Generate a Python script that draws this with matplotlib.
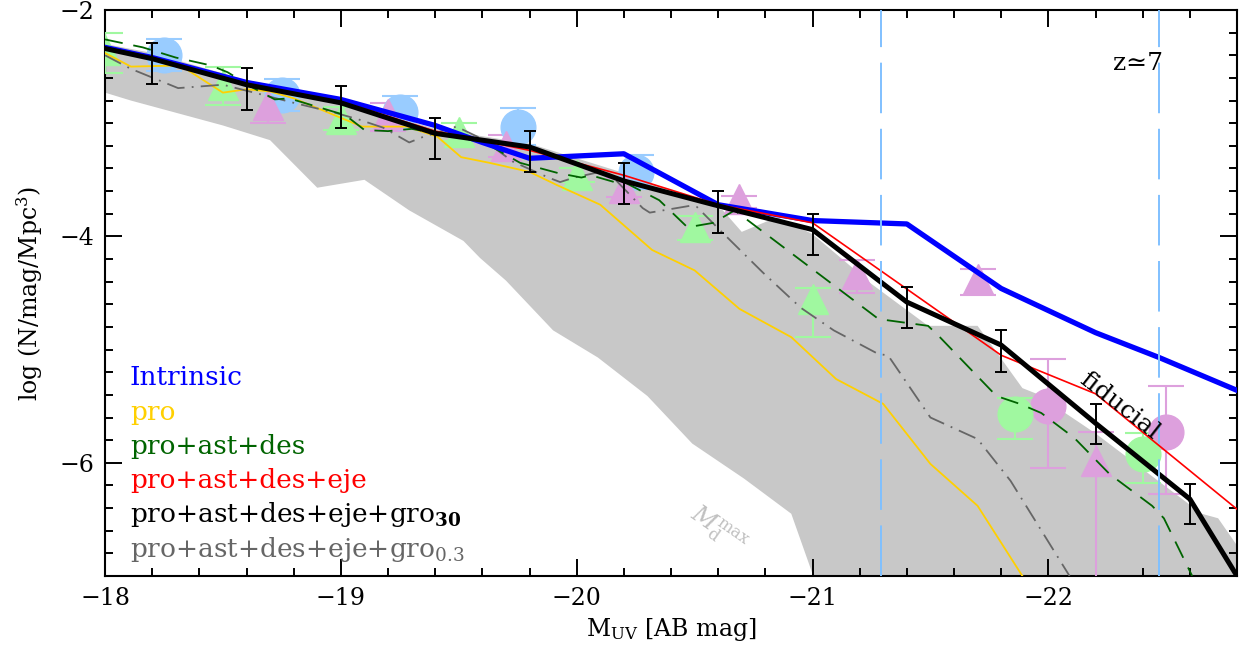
import numpy as np
import matplotlib
matplotlib.use('Agg')
import matplotlib.pyplot as plt
from matplotlib.ticker import MultipleLocator

plt.rcParams['font.family'] = ['DejaVu Serif']
plt.rcParams['mathtext.fontset'] = 'dejavuserif'

# model curves, M_UV vs log phi
fid_mag = [-18.0, -18.2, -18.6, -19.0, -19.4, -19.8, -20.2, -20.6, -21.0, -21.4, -21.8, -22.2, -22.6, -22.8]
fid_phi = [-2.34, -2.43, -2.66, -2.82, -3.09, -3.21, -3.51, -3.73, -3.94, -4.58, -4.96, -5.65, -6.32, -7.0]

eb_mag = [-18.2, -18.6, -19.0, -19.4, -19.8, -20.2, -20.6, -21.0, -21.4, -21.8, -22.2, -22.6]
eb_lo = [-2.65, -2.88, -3.04, -3.32, -3.43, -3.71, -3.97, -4.16, -4.81, -5.20, -5.83, -6.54]
eb_hi = [-2.29, -2.51, -2.67, -2.95, -3.07, -3.35, -3.60, -3.80, -4.45, -4.83, -5.48, -6.19]

int_mag = [-18.0, -18.2, -18.6, -19.0, -19.4, -19.6, -19.8, -20.2, -20.6, -21.0, -21.4, -21.8, -22.2, -22.47, -22.8]
int_phi = [-2.33, -2.42, -2.64, -2.79, -3.02, -3.17, -3.31, -3.27, -3.72, -3.86, -3.89, -4.46, -4.85, -5.07, -5.36]

red_mag = [-18.0, -18.2, -18.6, -19.0, -19.4, -19.8, -20.2, -20.6, -21.0, -21.8, -22.2, -22.8]
red_phi = [-2.34, -2.43, -2.65, -2.81, -3.07, -3.24, -3.46, -3.72, -3.88, -5.05, -5.39, -6.41]

pro_mag = [-18.0, -18.11, -18.32, -18.50, -18.60, -18.70, -18.80, -19.09, -19.28, -19.41, -19.51, -19.63,
           -19.80, -19.92, -20.10, -20.21, -20.32, -20.50, -20.69, -20.91, -21.10, -21.30, -21.50, -21.70, -21.89]
pro_phi = [-2.38, -2.50, -2.49, -2.73, -2.70, -2.72, -2.78, -3.03, -3.03, -3.12, -3.30, -3.35,
           -3.43, -3.55, -3.72, -3.92, -4.12, -4.30, -4.64, -4.89, -5.26, -5.48, -6.01, -6.38, -7.0]

pad_mag = [-18.0, -18.16, -18.30, -18.45, -18.52, -18.63, -18.72, -18.78, -19.02, -19.10, -19.20, -19.30,
           -19.60, -19.76, -19.92, -20.02, -20.06, -20.16, -20.21, -20.35, -20.47, -20.58, -20.67,
           -21.28, -21.49, -21.54, -21.78, -21.88, -21.97, -22.11, -22.26, -22.44, -22.49, -22.61]
pad_phi = [-2.26, -2.33, -2.42, -2.49, -2.55, -2.69, -2.79, -2.78, -2.93, -3.06, -3.07, -3.05,
           -3.16, -3.35, -3.44, -3.48, -3.46, -3.52, -3.53, -3.68, -3.92, -3.88, -3.77,
           -4.73, -4.79, -4.89, -5.41, -5.48, -5.56, -5.78, -6.10, -6.38, -6.49, -7.0]

g03_mag = [-18.0, -18.11, -18.31, -18.50, -18.67, -18.80, -18.98, -19.08, -19.18, -19.29, -19.35, -19.49,
           -19.60, -19.73, -19.88, -19.93, -19.99, -20.10, -20.16, -20.28, -20.31, -20.48, -20.51,
           -20.61, -20.79, -20.95, -21.09, -21.28, -21.32, -21.50, -21.70, -21.84, -22.09]
g03_phi = [-2.40, -2.52, -2.69, -2.66, -2.75, -2.82, -2.91, -2.97, -3.04, -3.17, -3.12, -3.03,
           -3.14, -3.34, -3.48, -3.52, -3.48, -3.43, -3.49, -3.75, -3.79, -3.73, -3.74,
           -3.95, -4.32, -4.63, -4.83, -5.04, -5.05, -5.60, -5.79, -6.16, -7.0]

# shaded M_d^max range
band_top_mag = [-18.0, -18.2, -18.4, -18.6, -19.0, -19.4, -19.8, -20.2, -20.62, -20.7, -20.85, -21.0,
                -21.12, -21.25, -21.49, -21.70, -21.89, -21.95, -22.2, -22.65, -22.72, -22.8]
band_top_phi = [-2.30, -2.38, -2.50, -2.62, -2.80, -3.05, -3.18, -3.44, -3.77, -3.96, -3.83, -3.98,
                -4.19, -4.42, -4.79, -4.79, -5.34, -5.39, -5.74, -6.45, -6.49, -6.73]
band_bot_mag = [-18.0, -18.11, -18.50, -18.70, -18.90, -19.10, -19.29, -19.52, -19.59, -19.70, -19.90,
                -20.09, -20.30, -20.49, -20.71, -20.91, -21.0, -21.0, -22.8]
band_bot_phi = [-2.73, -2.80, -3.02, -3.15, -3.57, -3.50, -3.77, -4.04, -4.19, -4.39, -4.83,
                -5.07, -5.41, -5.83, -6.14, -6.45, -6.98, -7.5, -7.5]

# observations
circ_mag = [-18.25, -18.75, -19.25, -19.75, -20.25]
circ_phi = [-2.40, -2.75, -2.90, -3.03, -3.43]
circ_err = [0.14, 0.14, 0.14, 0.16, 0.15]

ptri_mag = [-18.69, -19.20, -19.70, -20.20, -20.69, -21.19, -21.70, -22.20]
ptri_phi = [-2.84, -2.92, -3.20, -3.57, -3.67, -4.33, -4.38, -5.98]
ptri_lo = [-3.00, -3.07, -3.30, -3.65, -3.75, -4.50, -4.52, -8.0]
ptri_hi = [-2.68, -2.82, -3.10, -3.48, -3.64, -4.21, -4.29, -5.73]
pcirc_mag = [-22.0, -22.5]
pcirc_phi = [-5.50, -5.73]
pcirc_lo = [-6.05, -6.28]
pcirc_hi = [-5.08, -5.32]

gtri_mag = [-18.0, -18.5, -19.0, -19.5, -20.0, -20.5, -21.0]
gtri_phi = [-2.35, -2.66, -2.96, -3.08, -3.46, -3.92, -4.55]
gtri_lo = [-2.56, -2.84, -3.06, -3.16, -3.52, -4.03, -4.89]
gtri_hi = [-2.20, -2.50, -2.86, -3.00, -3.40, -3.82, -4.46]
gcirc_mag = [-21.86, -22.40]
gcirc_phi = [-5.57, -5.92]
gcirc_lo = [-5.79, -6.18]
gcirc_hi = [-5.43, -5.74]

vline_mag = [-21.29, -22.47]

labels = ['Intrinsic', 'pro', 'pro+ast+des', 'pro+ast+des+eje',
          r'pro+ast+des+eje+gro$_{\mathbf{30}}$', r'pro+ast+des+eje+gro$_{0.3}$']
label_colors = ['#0000ff', '#ffd000', '#006400', '#ff0000', 'black', '#666666']

pink = '#dda0dd'
lgreen = '#a0f8a0'
lblue = '#99ccff'


def asym(phi, lo, hi):
    phi = np.array(phi)
    return [phi - np.array(lo), np.array(hi) - phi]


fig = plt.figure(figsize=(12.4, 6.55), dpi=100)
ax = fig.add_axes([105/1240, 1-576/655, 1132/1240, 566/655])

ax.fill(band_top_mag + band_bot_mag[::-1], band_top_phi + band_bot_phi[::-1],
        color='#c8c8c8', lw=0, zorder=1)

# data points
ax.errorbar(circ_mag, circ_phi, yerr=circ_err, fmt='o', ms=25, color=lblue, ecolor=lblue,
            elinewidth=1.5, capsize=13, capthick=1.5, zorder=3)
ax.errorbar(ptri_mag, ptri_phi, yerr=asym(ptri_phi, ptri_lo, ptri_hi), fmt='^', ms=22, color=pink,
            ecolor=pink, elinewidth=1.5, capsize=13, capthick=1.5, zorder=3)
ax.errorbar(pcirc_mag, pcirc_phi, yerr=asym(pcirc_phi, pcirc_lo, pcirc_hi), fmt='o', ms=25, color=pink,
            ecolor=pink, elinewidth=1.5, capsize=13, capthick=1.5, zorder=3)
ax.errorbar(gtri_mag, gtri_phi, yerr=asym(gtri_phi, gtri_lo, gtri_hi), fmt='^', ms=22, color=lgreen,
            ecolor=lgreen, elinewidth=1.5, capsize=13, capthick=1.5, zorder=3)
ax.errorbar(gcirc_mag, gcirc_phi, yerr=asym(gcirc_phi, gcirc_lo, gcirc_hi), fmt='o', ms=25, color=lgreen,
            ecolor=lgreen, elinewidth=1.5, capsize=13, capthick=1.5, zorder=3)

# models
ax.plot(pro_mag, pro_phi, color='#ffd000', lw=1.3, zorder=4)
ax.plot(g03_mag, g03_phi, color='#666666', lw=1.3, dashes=(10, 4, 1, 4), zorder=4)
ax.plot(pad_mag, pad_phi, color='#006400', lw=1.3, dashes=(10, 6), zorder=4)
ax.plot(int_mag, int_phi, color='#0000ff', lw=3.8, zorder=5)
ax.plot(red_mag, red_phi, color='#ff0000', lw=1.2, zorder=5)
ax.plot(fid_mag, fid_phi, color='black', lw=3.6, zorder=6)
eb_mid = (np.array(eb_lo) + np.array(eb_hi)) / 2
ax.errorbar(eb_mag, eb_mid, yerr=(np.array(eb_hi) - np.array(eb_lo)) / 2, fmt='none', ecolor='black',
            elinewidth=1.4, capsize=4.5, capthick=1.4, zorder=7)

for m in vline_mag:
    ax.axvline(m, color='#80c0ff', lw=1.4, dashes=(26, 8), zorder=8)

ax.text(-22.38, -2.47, 'z≃7', fontsize=18, ha='center', va='center')
ax.text(-22.3, -5.5, 'fiducial', fontsize=18, rotation=-38, ha='center', va='center', zorder=9)
ax.text(-20.6, -6.6, r'$M_{\rm d}^{\rm max}$', fontsize=17, color='#c0c0c0', rotation=-35,
        ha='center', va='center')

for i, (lab, col) in enumerate(zip(labels, label_colors)):
    ax.text(0.022, 0.337 - i*0.0606, lab, color=col, fontsize=19, transform=ax.transAxes,
            ha='left', va='baseline')

ax.set_xlim(-18, -22.8)
ax.set_ylim(-7, -2)
ax.xaxis.set_major_locator(MultipleLocator(1))
ax.xaxis.set_minor_locator(MultipleLocator(0.2))
ax.yaxis.set_major_locator(MultipleLocator(2))
ax.yaxis.set_minor_locator(MultipleLocator(0.2))
ax.tick_params(which='both', direction='in', top=True, right=True, width=1.4, labelsize=17)
ax.tick_params(which='major', length=12, pad=8)
ax.tick_params(which='minor', length=6)
for s in ax.spines.values():
    s.set_linewidth(1.5)

ax.set_xlabel(r'M$_{\rm UV}$ [AB mag]', fontsize=17, labelpad=4)
ax.set_ylabel(r'log (N/mag/Mpc$^3$)', fontsize=17, labelpad=10)

fig.savefig('out.png', dpi=100)
